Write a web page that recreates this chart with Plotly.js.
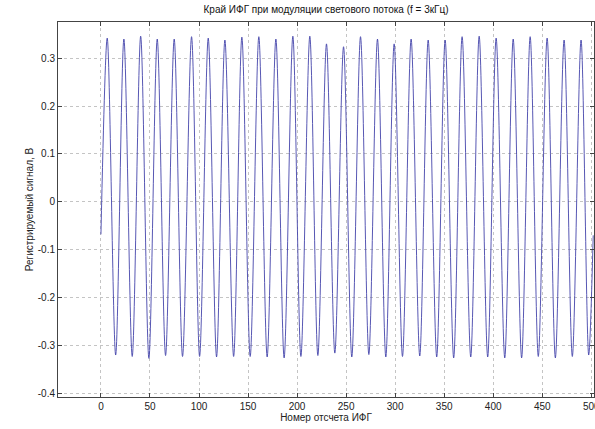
<!DOCTYPE html>
<html>
<head>
<meta charset="utf-8">
<script src="https://cdn.plot.ly/plotly-3.0.1.min.js"></script>
<style>
html,body{margin:0;padding:0;background:#fff;}
#chart{width:595px;height:429px;}
</style>
</head>
<body>
<div id="chart"></div>
<script>
// Extrema (sample number, signal in V)
const startPoint = [0, -0.068];
const endPoint = [502, -0.07];
const peakX = [6.4, 23.4, 40.5, 57.4, 74.7, 92.4, 109.4, 126.4, 143.7, 161, 178.4, 195.7, 213, 230, 247.4, 264.7, 282, 299, 316.3, 333.7, 351, 368.3, 385.7, 403, 420.4, 437.7, 455, 472.3, 489.6];
const peakY = [0.342, 0.340, 0.346, 0.340, 0.340, 0.345, 0.342, 0.338, 0.344, 0.345, 0.340, 0.346, 0.346, 0.330, 0.324, 0.345, 0.340, 0.330, 0.340, 0.338, 0.338, 0.345, 0.346, 0.342, 0.340, 0.345, 0.342, 0.338, 0.338];
const troughX = [15, 31.9, 48.9, 65.9, 83.2, 100.6, 117.9, 135.3, 152.2, 169.5, 186.8, 203.9, 221.2, 238.5, 255.8, 273.2, 290.5, 307.5, 325.1, 342.4, 359.7, 377.1, 394.4, 411.8, 429, 446, 463.4, 480.7, 497.4];
const troughY = [-0.320, -0.323, -0.327, -0.321, -0.323, -0.323, -0.324, -0.323, -0.323, -0.324, -0.326, -0.323, -0.321, -0.316, -0.324, -0.319, -0.324, -0.323, -0.322, -0.324, -0.326, -0.324, -0.324, -0.326, -0.326, -0.323, -0.326, -0.323, -0.320];

const xTickVals = [0, 50, 100, 150, 200, 250, 300, 350, 400, 450, 500];
const xTickText = ['0', '50', '100', '150', '200', '250', '300', '350', '400', '450', '500'];
const yTickVals = [0.3, 0.2, 0.1, 0, -0.1, -0.2, -0.3, -0.4];
const yTickText = ['0.3', '0.2', '0.1', '0', '-0.1', '-0.2', '-0.3', '-0.4'];

const titleText = 'Край ИФГ при модуляции светового потока (f = 3кГц)';
const xTitle = 'Номер отсчета ИФГ';
const yTitle = 'Регистрируемый сигнал, В';

// Assemble the series in order of sample number
const xs = [startPoint[0]];
const ys = [startPoint[1]];
for (let i = 0; i < peakX.length; i++) {
  xs.push(peakX[i]); ys.push(peakY[i]);
  xs.push(troughX[i]); ys.push(troughY[i]);
}
xs.push(endPoint[0]); ys.push(endPoint[1]);

const font = {family: 'Liberation Sans, Arial, sans-serif', size: 10, color: '#222'};

const trace = {
  x: xs, y: ys, type: 'scatter', mode: 'lines',
  line: {color: '#4444aa', width: 0.9, shape: 'spline', smoothing: 0.9},
  hoverinfo: 'none'
};

const axisCommon = {
  showline: true, linecolor: '#444', linewidth: 1, mirror: 'ticks',
  ticks: 'inside', ticklen: 4, tickcolor: '#444', tickwidth: 1,
  showgrid: true, gridcolor: '#c4c4c4', griddash: 'dot', gridwidth: 1,
  zeroline: false, tickmode: 'array', tickfont: font,
  ticklabeloverflow: 'allow'
};

const layout = {
  width: 595, height: 429,
  margin: {l: 58, r: 1, t: 22, b: 32},
  paper_bgcolor: '#fff', plot_bgcolor: '#fff',
  showlegend: false,
  font: font,
  title: {text: titleText, font: {family: 'Liberation Sans, Arial, sans-serif', size: 10, color: '#111'}, x: 0.548, xanchor: 'center', y: 0.985, yanchor: 'top'},
  xaxis: Object.assign({}, axisCommon, {
    range: [-43.8, 502.8], tickvals: xTickVals, ticktext: xTickText,
    title: {text: xTitle, font: font, standoff: 0}
  }),
  yaxis: Object.assign({}, axisCommon, {
    range: [-0.4077, 0.3757], tickvals: yTickVals, ticktext: yTickText,
    title: {text: yTitle, font: font, standoff: 2}
  })
};

Plotly.newPlot('chart', [trace], layout, {staticPlot: true, displayModeBar: false});
</script>
</body>
</html>
